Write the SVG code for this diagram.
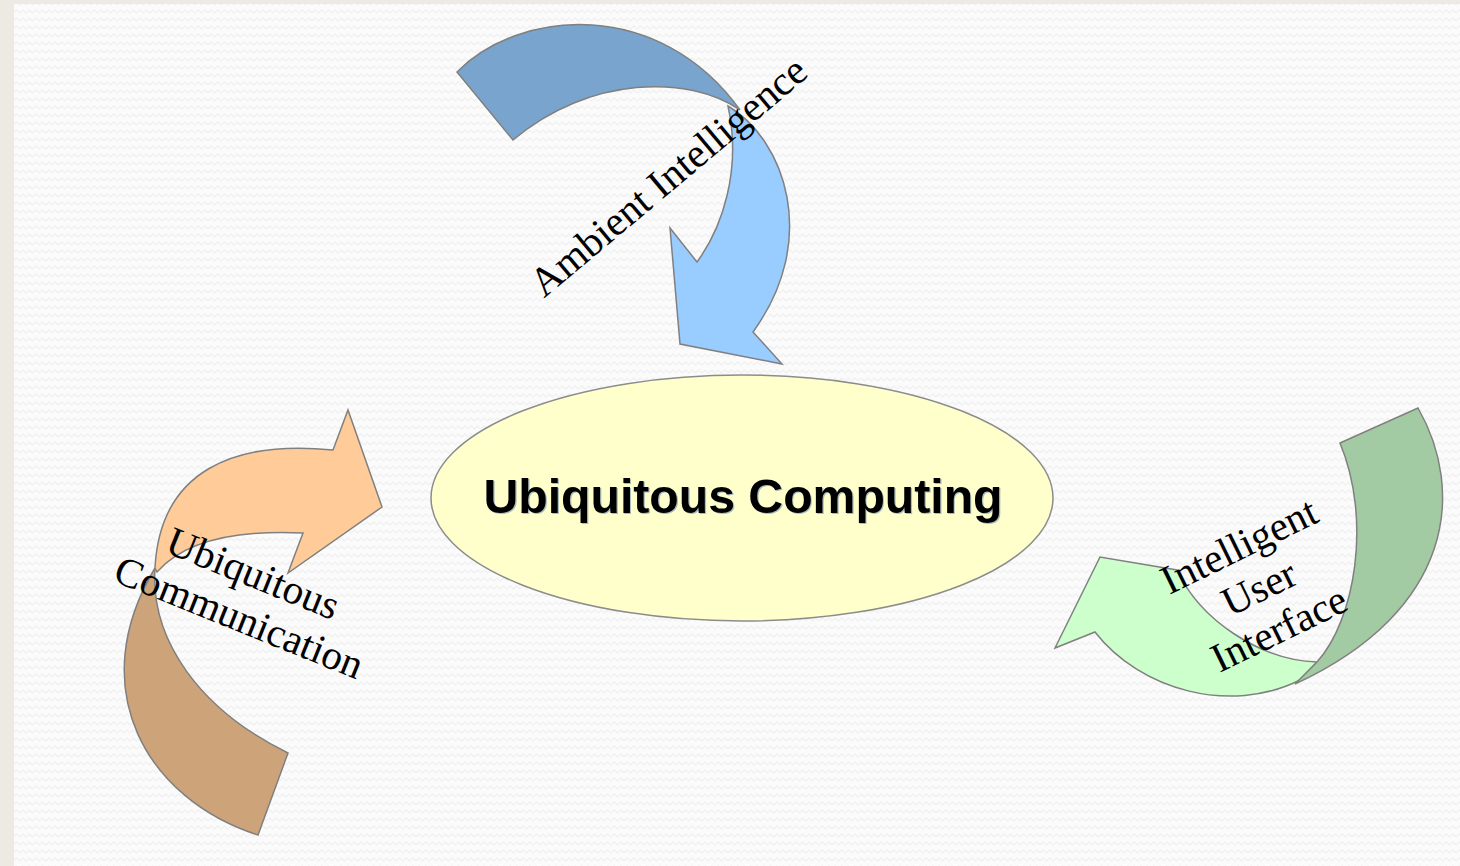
<svg xmlns="http://www.w3.org/2000/svg" width="1460" height="866" viewBox="0 0 1460 866">
  <defs>
    <pattern id="zigzag" width="13" height="8" patternUnits="userSpaceOnUse">
      <polyline points="0,5 3.25,2 6.5,5 9.75,2 13,5" fill="none" stroke="#f1f1f1" stroke-width="1.4"/>
    </pattern>
    <style>
      .shape { stroke: #808080; stroke-width: 1.5; stroke-linejoin: miter; }
      .label { font-family: "Liberation Serif", "Times New Roman", serif; font-size: 41px; fill: #000; text-anchor: middle; }
      .title { font-family: "Liberation Sans", Arial, sans-serif; font-size: 48px; font-weight: bold; text-anchor: middle; }
    </style>
  </defs>

  <!-- page background -->
  <rect x="0" y="0" width="1460" height="866" fill="#edeae3"/>
  <rect x="14" y="4" width="1446" height="862" fill="#fbfbfb"/>
  <rect x="14" y="4" width="1446" height="862" fill="url(#zigzag)"/>

  <!-- centre node -->
  <g id="ubiquitous-computing">
    <ellipse cx="742" cy="498" rx="311" ry="123" fill="#ffffcc" stroke="#8c8c8c" stroke-width="1.5"/>
    <text class="title" x="744.2" y="514.2" fill="#2a5aa8" opacity="0.4" textLength="519" lengthAdjust="spacingAndGlyphs">Ubiquitous Computing</text>
    <text class="title" x="743" y="513" fill="#000" textLength="519" lengthAdjust="spacingAndGlyphs">Ubiquitous Computing</text>
  </g>

  <!-- curved arrows feeding the centre -->
  <g id="connectors">
    <g id="ambient-intelligence-arrow">
      <path class="shape" fill="#99ccff" d="M728,106 C785,140 820,240 753,332 L782,364 L680,344 L670,228 L697,262 C722,228 742,170 728,106 Z"/>
      <path class="shape" fill="#78a4cd" d="M457,72 C520,8 660,-2 740,110 C690,75 590,75 513,140 Z"/>
    </g>
    <g id="ubiquitous-communication-arrow">
      <path class="shape" fill="#cda37a" d="M288,753 L258,835 C148,800 82,690 155,568 C150,640 200,710 288,753 Z"/>
      <path class="shape" fill="#ffcc99" d="M155,568 C160,470 235,440 333,450 L348,410 L382,507 L288,573 L303,533 C240,530 185,540 157,572 Z"/>
    </g>
    <g id="intelligent-ui-arrow">
      <path class="shape" fill="#ccffcc" d="M1317,662 C1260,660 1200,620 1177,570 L1100,557 L1055,648 L1095,632 C1140,690 1230,715 1300,680 Z"/>
      <path class="shape" fill="#a3cba3" d="M1340,443 L1418,408 C1465,490 1455,610 1295,684 L1317,662 C1355,620 1372,520 1340,443 Z"/>
    </g>
  </g>

  <!-- arrow labels -->
  <g id="ambient-intelligence">
    <text class="label" transform="translate(677,187) rotate(-40)">Ambient Intelligence</text>
  </g>
  <g id="ubiquitous-communication">
    <text class="label" transform="translate(248,586) rotate(22)">Ubiquitous</text>
    <text class="label" transform="translate(234,630) rotate(22)">Communication</text>
  </g>
  <g id="intelligent-user-interface">
    <text class="label" transform="translate(1245,558) rotate(-26)">Intelligent</text>
    <text class="label" transform="translate(1265,600) rotate(-26)">User</text>
    <text class="label" transform="translate(1285,641) rotate(-26)">Interface</text>
  </g>
</svg>
